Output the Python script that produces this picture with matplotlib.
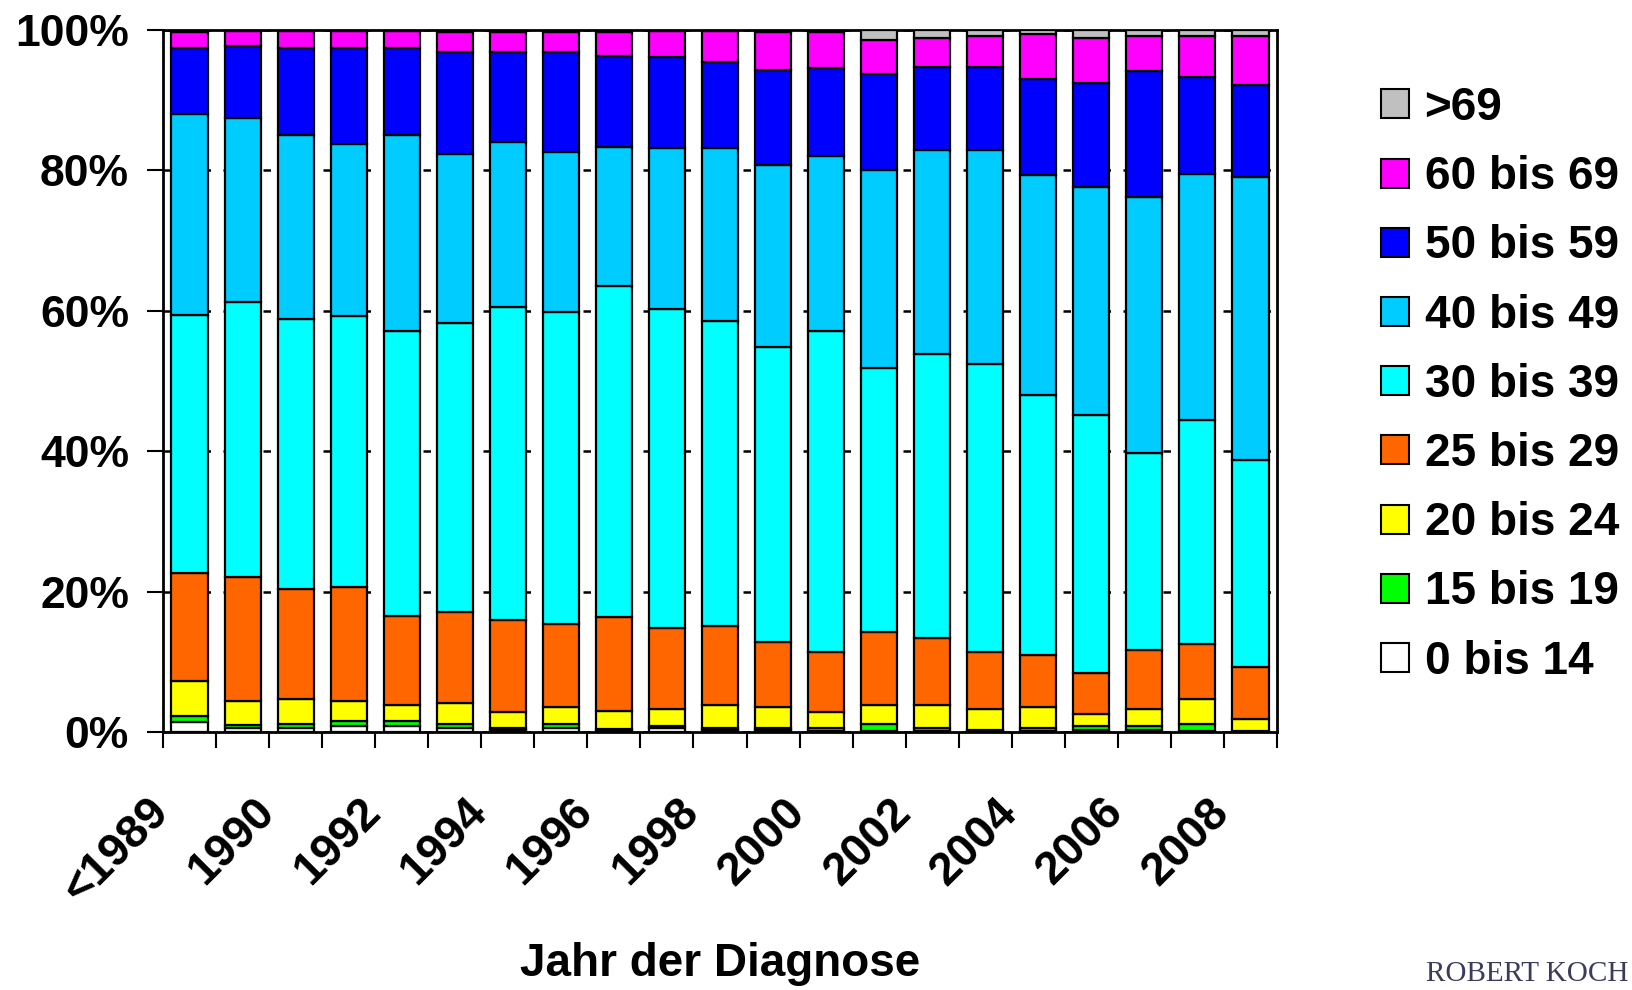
import matplotlib
matplotlib.use("Agg")
import matplotlib.pyplot as plt
import matplotlib.transforms as mtransforms
from matplotlib.patches import Patch
import numpy as np

# Anteile je Altersgruppe (%), von unten nach oben gestapelt
jahre = ['<1989', '1989', '1990', '1991', '1992', '1993', '1994', '1995', '1996', '1997',
         '1998', '1999', '2000', '2001', '2002', '2003', '2004', '2005', '2006', '2007', '2008']

a_0_14 = [1.4, 0.5, 0.5, 0.9, 0.9, 0.5, 0.3, 0.5, 0.1, 0.5, 0.3,
          0.3, 0.2, 0.1, 0.1, 0.2, 0.1, 0.3, 0.3, 0.2, 0.0]
a_15_19 = [0.9, 0.5, 0.6, 0.7, 0.7, 0.6, 0.2, 0.6, 0.3, 0.3, 0.2,
           0.2, 0.3, 1.0, 0.4, 0.1, 0.4, 0.6, 0.6, 0.9, 0.1]
a_20_24 = [4.9, 3.4, 3.6, 2.8, 2.3, 3.1, 2.3, 2.5, 2.6, 2.5, 3.4,
           3.1, 2.3, 2.8, 3.4, 3.0, 3.1, 1.6, 2.4, 3.6, 1.8]
a_25_29 = [15.4, 17.7, 15.7, 16.3, 12.6, 12.9, 13.2, 11.8, 13.4, 11.5, 11.2,
           9.2, 8.6, 10.4, 9.5, 8.1, 7.3, 5.9, 8.4, 7.9, 7.3]
a_30_39 = [36.8, 39.2, 38.4, 38.6, 40.6, 41.2, 44.5, 44.5, 47.1, 45.4, 43.4,
           42.1, 45.7, 37.5, 40.4, 41.0, 37.1, 36.7, 28.1, 31.9, 29.5]
a_40_49 = [28.7, 26.1, 26.3, 24.4, 28.0, 24.0, 23.5, 22.7, 19.9, 23.0, 24.7,
           25.8, 25.0, 28.3, 29.1, 30.5, 31.3, 32.5, 36.4, 35.0, 40.3]
a_50_59 = [9.3, 10.3, 12.3, 13.7, 12.3, 14.6, 12.9, 14.3, 12.9, 12.9, 12.3,
           13.6, 12.5, 13.7, 11.8, 11.8, 13.7, 14.9, 18.0, 13.8, 13.2]
a_60_69 = [2.3, 2.2, 2.5, 2.4, 2.5, 2.8, 2.8, 2.8, 3.4, 3.7, 4.3,
           5.4, 5.1, 4.8, 4.2, 4.5, 6.5, 6.4, 5.0, 5.9, 7.0]
a_70 = [0.3, 0.1, 0.1, 0.2, 0.1, 0.3, 0.3, 0.3, 0.3, 0.2, 0.2,
        0.3, 0.3, 1.4, 1.1, 0.8, 0.5, 1.1, 0.8, 0.8, 0.8]

gruppen = ['0 bis 14', '15 bis 19', '20 bis 24', '25 bis 29', '30 bis 39',
           '40 bis 49', '50 bis 59', '60 bis 69', '>69']
werte = [a_0_14, a_15_19, a_20_24, a_25_29, a_30_39, a_40_49, a_50_59, a_60_69, a_70]
farben = ['#FFFFFF', '#00FF00', '#FFFF00', '#FF6600', '#00FFFF',
          '#00CCFF', '#0000FF', '#FF00FF', '#C0C0C0']

schrift = 'Liberation Sans'

fig = plt.figure(figsize=(16.32, 9.9), dpi=100)
ax = fig.add_axes([163 / 1632, 1 - 732 / 990, (1277 - 163) / 1632, (732 - 30) / 990])

x = np.arange(len(jahre))
unten = np.zeros(len(jahre))
for w, f in zip(werte, farben):
    ax.bar(x, w, width=0.68, bottom=unten, color=f, edgecolor='black', linewidth=1.6, zorder=3)
    unten += np.array(w)

ax.set_xlim(-0.5, len(jahre) - 0.5)
ax.set_ylim(0, 100)

# y-Achse
ax.set_yticks([0, 20, 40, 60, 80, 100])
ax.set_yticklabels(['0%', '20%', '40%', '60%', '80%', '100%'],
                   fontfamily=schrift, fontweight='bold', fontsize=32)
ax.tick_params(axis='y', direction='out', length=11.5, width=1.5, pad=13)
ax.yaxis.grid(True, linestyle=(0, (3, 5)), color='black', linewidth=1.8)
ax.set_axisbelow(True)

# x-Achse: Striche an den Kategoriegrenzen, Beschriftung jede zweite Kategorie
ax.set_xticks(np.arange(-0.5, len(jahre)), minor=True)
ax.tick_params(axis='x', which='minor', direction='out', length=11.5, width=1.5)
ax.set_xticks(x[::2])
ax.set_xticklabels(jahre[::2], rotation=45, ha='right', va='center', rotation_mode='anchor',
                   fontfamily=schrift, fontweight='bold', fontsize=33)
ax.tick_params(axis='x', which='major', length=0, pad=53)
verschiebung = mtransforms.ScaledTranslation(-0.28, 0, fig.dpi_scale_trans)
for lab in ax.get_xticklabels():
    lab.set_transform(lab.get_transform() + verschiebung)

for s in ax.spines.values():
    s.set_linewidth(2)
    s.set_color('black')

fig.text(720 / 1632, 1 - 964 / 990, 'Jahr der Diagnose', ha='center', va='center',
         fontfamily=schrift, fontweight='bold', fontsize=33)

griffe = [Patch(facecolor=f, edgecolor='black', linewidth=1.5) for f in farben][::-1]
fig.legend(griffe, gruppen[::-1], loc='upper left',
           bbox_to_anchor=(1381 / 1632, 1 - 86 / 990), frameon=False,
           prop={'family': schrift, 'weight': 'bold', 'size': 33},
           handlelength=0.6, handleheight=0.6, handletextpad=0.35,
           labelspacing=0.55, borderpad=0, borderaxespad=0)

fig.text(1628 / 1632, 1 - 974 / 990, 'ROBERT KOCH', ha='right', va='center',
         fontfamily='Liberation Serif', fontsize=21, color='#3b3b5c')

fig.savefig('out.png', dpi=100)
